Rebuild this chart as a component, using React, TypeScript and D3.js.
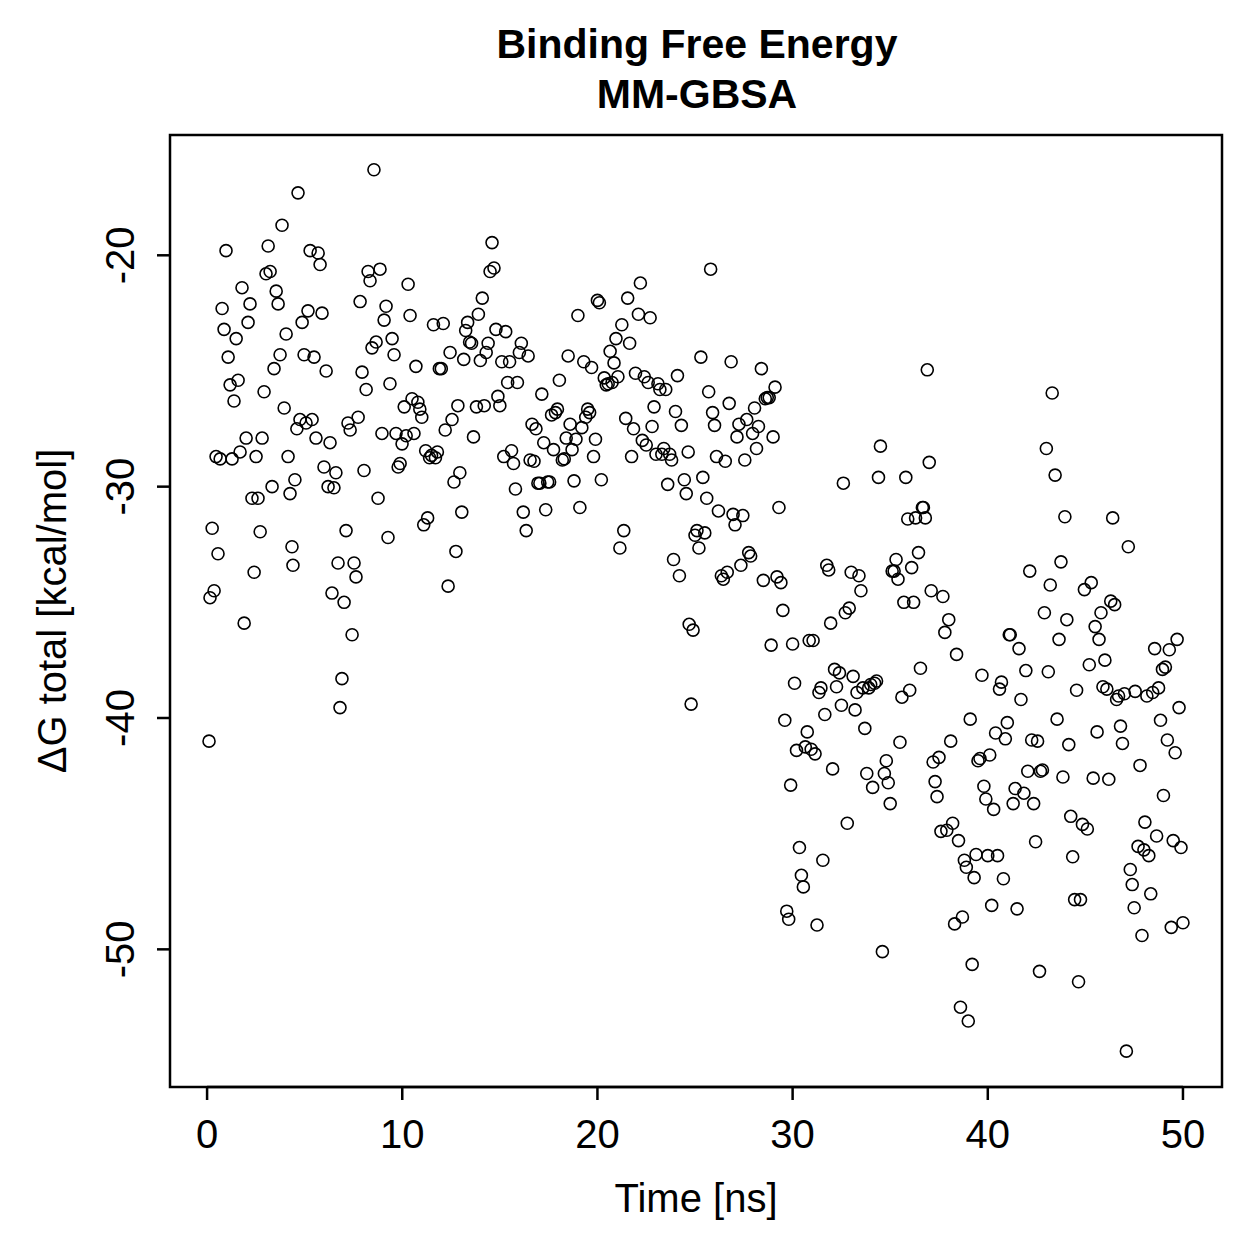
import React from "react";
import * as d3 from "d3";

const title1 = "Binding Free Energy";
const title2 = "MM-GBSA";
const xLabel = "Time [ns]";
const yLabel = "ΔG total [kcal/mol]";
const xTicks = [0, 10, 20, 30, 40, 50];
const yTicks = [-20, -30, -40, -50];

// time [ns]
const timeNs = [
0.1,0.15,0.26,0.36,0.46,0.56,0.67,0.77,0.87,0.97,1.08,1.18,1.28,1.38,1.49,1.59,1.69,1.79,1.9,2.0,2.1,2.2,2.3,2.41,2.51,2.61,2.72,2.82,2.92,3.02,3.13,3.23,3.33,3.43,3.54,3.64,3.74,3.84,3.95,4.05,4.15,4.25,4.35,4.4,4.5,4.6,4.66,4.76,4.87,4.97,
5.07,5.17,5.28,5.38,5.48,5.58,5.69,5.79,5.89,5.99,6.1,6.2,6.3,6.4,6.5,6.6,6.71,6.81,6.91,7.02,7.12,7.22,7.33,7.43,7.53,7.63,7.74,7.84,7.94,8.04,8.15,8.25,8.35,8.45,8.55,8.66,8.76,8.86,8.96,9.07,9.17,9.27,9.37,9.48,9.58,9.68,9.79,9.89,9.99,
10.1,10.2,10.3,10.4,10.5,10.6,10.7,10.8,10.9,11.0,11.1,11.2,11.3,11.4,11.5,11.6,11.7,11.8,11.9,12.0,12.1,12.2,12.35,12.45,12.55,12.65,12.75,12.85,12.95,13.05,13.15,13.25,13.35,13.45,13.55,13.65,13.8,13.9,14.0,14.1,14.2,14.3,14.4,14.5,14.6,14.7,14.8,14.9,15.0,
15.1,15.2,15.3,15.4,15.5,15.6,15.7,15.8,15.9,16.0,16.1,16.2,16.35,16.45,16.55,16.65,16.75,16.85,16.95,17.05,17.15,17.25,17.35,17.45,17.55,17.65,17.75,17.85,17.95,18.05,18.2,18.3,18.4,18.5,18.6,18.7,18.8,18.9,19.0,19.1,19.2,19.3,19.4,19.5,19.6,19.7,19.8,19.9,20.0,
20.1,20.2,20.35,20.45,20.55,20.65,20.75,20.85,20.95,21.05,21.15,21.25,21.35,21.45,21.55,21.65,21.75,21.85,21.95,22.1,22.2,22.3,22.4,22.5,22.6,22.7,22.8,22.9,23.0,23.1,23.2,23.3,23.4,23.5,23.6,23.7,23.8,23.9,24.0,24.1,24.2,24.3,24.45,24.55,24.65,24.7,24.8,24.9,25.0,
25.1,25.2,25.3,25.4,25.5,25.6,25.7,25.8,25.9,26.0,26.1,26.2,26.35,26.45,26.55,26.65,26.75,26.85,26.95,27.05,27.15,27.25,27.35,27.45,27.55,27.65,27.75,27.85,27.95,28.05,28.15,28.25,28.4,28.5,28.6,28.7,28.8,28.9,29.0,29.1,29.2,29.3,29.4,29.5,29.6,29.7,29.8,29.9,30.0,
30.1,30.2,30.35,30.45,30.55,30.65,30.75,30.85,30.95,31.05,31.15,31.25,31.35,31.45,31.55,31.65,31.75,31.85,31.95,32.05,32.15,32.25,32.4,32.5,32.6,32.7,32.8,32.9,33.0,33.1,33.2,33.3,33.4,33.5,33.6,33.7,33.8,33.9,34.0,34.1,34.2,34.3,34.4,34.5,34.6,34.7,34.8,34.9,35.0,
35.1,35.2,35.3,35.4,35.5,35.6,35.7,35.8,35.9,36.0,36.1,36.2,36.3,36.45,36.55,36.65,36.7,36.8,36.9,37.0,37.1,37.2,37.3,37.4,37.5,37.6,37.7,37.8,37.9,38.0,38.1,38.2,38.3,38.4,38.5,38.6,38.7,38.8,38.9,39.0,39.1,39.2,39.3,39.4,39.5,39.6,39.7,39.8,39.9,40.0,
40.1,40.2,40.3,40.4,40.5,40.6,40.7,40.8,40.9,41.0,41.1,41.15,41.3,41.4,41.5,41.6,41.7,41.85,41.95,42.05,42.15,42.25,42.35,42.45,42.55,42.65,42.7,42.8,42.9,43.0,43.1,43.2,43.3,43.45,43.55,43.65,43.75,43.85,43.95,44.05,44.15,44.25,44.35,44.45,44.55,44.65,44.75,44.85,44.95,
45.1,45.2,45.3,45.4,45.5,45.6,45.7,45.8,45.9,46.0,46.1,46.2,46.3,46.4,46.5,46.6,46.7,46.8,46.9,47.0,47.1,47.2,47.3,47.4,47.5,47.55,47.7,47.8,47.9,48.0,48.05,48.15,48.25,48.35,48.45,48.55,48.65,48.75,48.85,48.95,49.0,49.1,49.2,49.3,49.4,49.5,49.6,49.7,49.8,49.9,50.0
];

// ΔG total [kcal/mol]
const dGTotal = [
-41.0,-34.8,-31.8,-34.5,-28.7,-32.9,-28.8,-22.3,-23.2,-19.8,-24.4,-25.6,-28.8,-26.3,-23.6,-25.4,-28.5,-21.4,-35.9,-27.9,-22.9,-22.1,-30.5,-33.7,-28.7,-30.5,-31.95,-27.9,-25.9,-20.8,-19.6,-20.7,-30.0,-24.9,-21.55,-22.1,-24.3,-18.7,-26.6,-23.4,-28.7,-30.3,-32.6,-33.4,-29.7,-27.5,-17.3,-27.1,-22.9,-24.3,
-27.25,-22.4,-19.8,-27.1,-24.4,-27.9,-19.9,-20.4,-22.5,-29.15,-25.0,-30.0,-28.1,-34.6,-30.05,-29.4,-33.3,-39.55,-38.3,-35.0,-31.9,-27.25,-27.55,-36.4,-33.3,-33.9,-27.0,-22.0,-25.05,-29.3,-25.8,-20.7,-21.1,-24.0,-16.3,-23.75,-30.5,-20.6,-27.7,-22.8,-22.2,-32.2,-25.55,-23.6,-24.3,-27.7,-29.15,-29.0,-28.15,
-26.55,-27.8,-21.25,-22.6,-26.2,-27.7,-24.8,-26.35,-26.65,-27.0,-31.65,-28.45,-31.35,-28.75,-28.65,-23.0,-28.75,-28.5,-24.9,-24.9,-22.95,-27.55,-34.3,-24.2,-27.1,-29.8,-32.8,-26.5,-29.4,-31.1,-24.5,-23.25,-22.9,-23.75,-23.8,-27.85,-26.55,-22.55,-24.55,-21.85,-26.5,-24.2,-23.8,-20.7,-19.45,-20.55,-23.2,-26.1,-26.5,
-24.6,-28.7,-23.3,-25.5,-24.6,-28.45,-29.0,-30.1,-25.5,-24.2,-23.8,-31.1,-31.9,-24.35,-28.85,-27.3,-28.9,-27.5,-29.85,-29.85,-26.0,-28.1,-31.0,-29.8,-29.8,-26.9,-28.4,-26.8,-26.65,-25.4,-28.85,-28.8,-27.9,-24.35,-27.3,-28.4,-29.75,-27.95,-22.6,-30.9,-27.45,-24.6,-27.0,-26.65,-26.8,-24.85,-28.7,-27.95,-21.95,
-22.05,-29.7,-25.3,-25.6,-25.55,-24.15,-25.5,-24.65,-23.6,-25.25,-32.65,-23.0,-31.9,-27.05,-21.85,-23.8,-28.7,-27.5,-25.1,-22.55,-21.2,-28.0,-25.25,-28.2,-25.5,-22.7,-27.4,-26.55,-28.6,-25.55,-25.8,-28.6,-28.35,-25.8,-29.9,-28.6,-28.85,-33.15,-26.75,-25.2,-33.85,-27.35,-29.7,-30.3,-28.5,-35.95,-39.4,-36.2,-32.1,
-31.9,-32.65,-24.4,-29.6,-32.0,-30.5,-25.9,-20.6,-26.8,-27.35,-28.7,-31.05,-33.85,-34.0,-28.9,-33.7,-26.4,-24.6,-31.2,-31.65,-27.85,-27.3,-33.4,-31.25,-28.85,-27.1,-32.85,-33.0,-27.7,-26.6,-28.35,-27.4,-24.9,-34.05,-26.2,-26.15,-26.15,-36.85,-27.85,-25.7,-33.9,-30.9,-34.15,-35.35,-40.1,-48.35,-48.7,-42.9,-36.8,
-38.5,-41.4,-45.6,-46.8,-47.3,-41.25,-40.6,-36.65,-41.35,-36.65,-41.55,-48.95,-38.9,-38.7,-46.15,-39.85,-33.4,-33.6,-35.9,-42.2,-37.9,-38.65,-38.05,-39.45,-29.85,-35.45,-44.55,-35.25,-33.7,-38.2,-39.65,-38.9,-33.85,-34.5,-38.7,-40.45,-42.4,-38.7,-38.55,-43.0,-38.5,-38.4,-29.6,-28.25,-50.1,-42.4,-41.85,-42.8,-43.7,
-33.65,-33.65,-33.15,-34.0,-41.05,-39.1,-35.0,-29.6,-31.4,-38.8,-33.5,-35.0,-31.35,-32.85,-37.85,-30.9,-30.9,-31.35,-24.95,-28.95,-34.5,-41.9,-42.75,-43.4,-41.7,-44.9,-34.75,-36.3,-44.85,-35.75,-41.0,-44.55,-48.9,-37.25,-45.3,-52.5,-48.6,-46.15,-46.45,-53.1,-40.05,-50.65,-46.9,-45.9,-41.85,-41.75,-38.15,-42.95,-43.5,-45.95,
-41.6,-48.1,-43.95,-40.65,-45.95,-38.75,-38.45,-46.95,-40.9,-40.2,-36.4,-36.4,-43.7,-43.05,-48.25,-37.0,-39.2,-43.25,-37.95,-42.3,-33.65,-40.95,-43.7,-45.35,-41.0,-50.95,-42.3,-42.25,-35.45,-28.35,-38.0,-34.25,-25.95,-29.5,-40.05,-36.6,-33.25,-42.55,-31.3,-35.75,-41.15,-44.25,-46.0,-47.85,-38.8,-51.4,-47.85,-44.6,-34.45,
-44.8,-37.7,-34.15,-42.6,-36.05,-40.6,-36.6,-35.45,-38.65,-37.5,-38.75,-42.65,-34.95,-31.35,-35.1,-39.2,-39.05,-40.35,-41.1,-38.95,-54.4,-32.6,-46.55,-47.2,-48.2,-38.85,-45.55,-42.05,-49.4,-45.7,-44.5,-39.05,-45.95,-47.6,-38.9,-37.0,-45.1,-38.7,-40.1,-37.9,-43.35,-37.8,-40.95,-37.05,-49.05,-45.3,-41.5,-36.6,-39.55,-45.6,-48.85
];

const W = 1259;
const H = 1243;
const left = 170, right = 1222, top = 135, bottom = 1087;
const font = "'Liberation Sans', Arial, Helvetica, sans-serif";

export default function App() {
  const x = d3.scaleLinear().domain([-1.9, 52.0]).range([left, right]);
  const y = d3.scaleLinear().domain([-55.95, -14.8]).range([bottom, top]);
  const pts = d3.zip(timeNs, dGTotal);
  return (
    <svg width={W} height={H} style={{ display: "block", margin: "-8px" }} fontFamily={font}>
      <rect width={W} height={H} fill="white" />
      <text x={697} y={58} textAnchor="middle" fontSize={41} fontWeight="bold">{title1}</text>
      <text x={697} y={108} textAnchor="middle" fontSize={41} fontWeight="bold">{title2}</text>
      <rect x={left} y={top} width={right - left} height={bottom - top} fill="none" stroke="black" strokeWidth={2.5} />
      {pts.map(([t, g], i) => (
        <circle key={i} cx={x(t)} cy={y(g)} r={6} fill="none" stroke="black" strokeWidth={1.6} />
      ))}
      <line x1={x(0)} x2={x(50)} y1={bottom} y2={bottom} stroke="black" strokeWidth={2.5} />
      {xTicks.map((t) => (
        <g key={t}>
          <line x1={x(t)} x2={x(t)} y1={bottom} y2={bottom + 13} stroke="black" strokeWidth={2.5} />
          <text x={x(t)} y={1148} textAnchor="middle" fontSize={40}>{t}</text>
        </g>
      ))}
      {yTicks.map((v) => (
        <g key={v}>
          <line x1={left} x2={left - 13} y1={y(v)} y2={y(v)} stroke="black" strokeWidth={2.5} />
          <text transform={`translate(134,${y(v)}) rotate(-90)`} textAnchor="middle" fontSize={40}>{v}</text>
        </g>
      ))}
      <text x={696} y={1212} textAnchor="middle" fontSize={40}>{xLabel}</text>
      <text transform={`translate(66,${611}) rotate(-90)`} textAnchor="middle" fontSize={40}>{yLabel}</text>
    </svg>
  );
}
